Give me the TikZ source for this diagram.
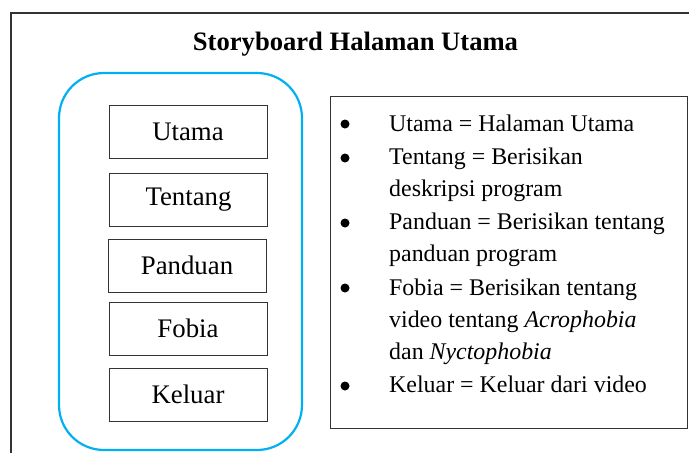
\documentclass[tikz,border=0pt]{standalone}
\usepackage{fontspec}
\setmainfont{Liberation Serif}
\definecolor{frameblue}{HTML}{00B0F0}
\definecolor{linegray}{HTML}{333333}
\begin{document}
\begin{tikzpicture}[x=1pt,y=-1pt,
  menubox/.style={draw=linegray,line width=1pt,minimum width=158pt,minimum height=53pt,inner sep=0pt,font=\fontsize{26.8}{30}\selectfont},
  listline/.style={anchor=base west,inner sep=0pt,font=\fontsize{23.9}{28}\selectfont},
  bulletdot/.style={circle,fill=black,inner sep=0pt,minimum size=9pt}]
\useasboundingbox (0,0) rectangle (689,453);
% outer frame (cropped)
\draw[linegray,line width=1.3pt] (11,453) -- (11,13) -- (689,13);
% title
\node[anchor=base,inner sep=0pt,font=\fontsize{26.6}{30}\selectfont\bfseries] (title) at (355.5,50) {Storyboard Halaman Utama};
% blue rounded frame
\draw[frameblue,line width=2.2pt,rounded corners=45pt] (59,73) rectangle (302,450);
% menu boxes
\node[menubox] (utama) at (188,132) {Utama};
\node[menubox] (tentang) at (188.5,199.5) {Tentang};
\node[menubox] (panduan) at (187,265.5) {Panduan};
\node[menubox] (fobia) at (188,328.5) {Fobia};
\node[menubox] (keluar) at (188,394.5) {Keluar};
% description box
\draw[linegray,line width=1pt] (330,96) rectangle (687,428);
\node[bulletdot] (b1) at (345,124) {};
\node[bulletdot] (b2) at (345,158) {};
\node[bulletdot] (b3) at (345,223) {};
\node[bulletdot] (b4) at (345,288) {};
\node[bulletdot] (b5) at (345,386) {};
\node[listline] (l1) at (389,131) {Utama = Halaman Utama};
\node[listline] (l2) at (389,164) {Tentang = Berisikan};
\node[listline] (l3) at (389,196) {deskripsi program};
\node[listline] (l4) at (389,229) {Panduan = Berisikan tentang};
\node[listline] (l5) at (389,261) {panduan program};
\node[listline] (l6) at (389,295) {Fobia = Berisikan tentang};
\node[listline] (l7) at (389,327) {video tentang \textit{Acrophobia}};
\node[listline] (l8) at (389,359) {dan \textit{Nyctophobia}};
\node[listline] (l9) at (389,392) {Keluar = Keluar dari video};
\end{tikzpicture}
\end{document}
